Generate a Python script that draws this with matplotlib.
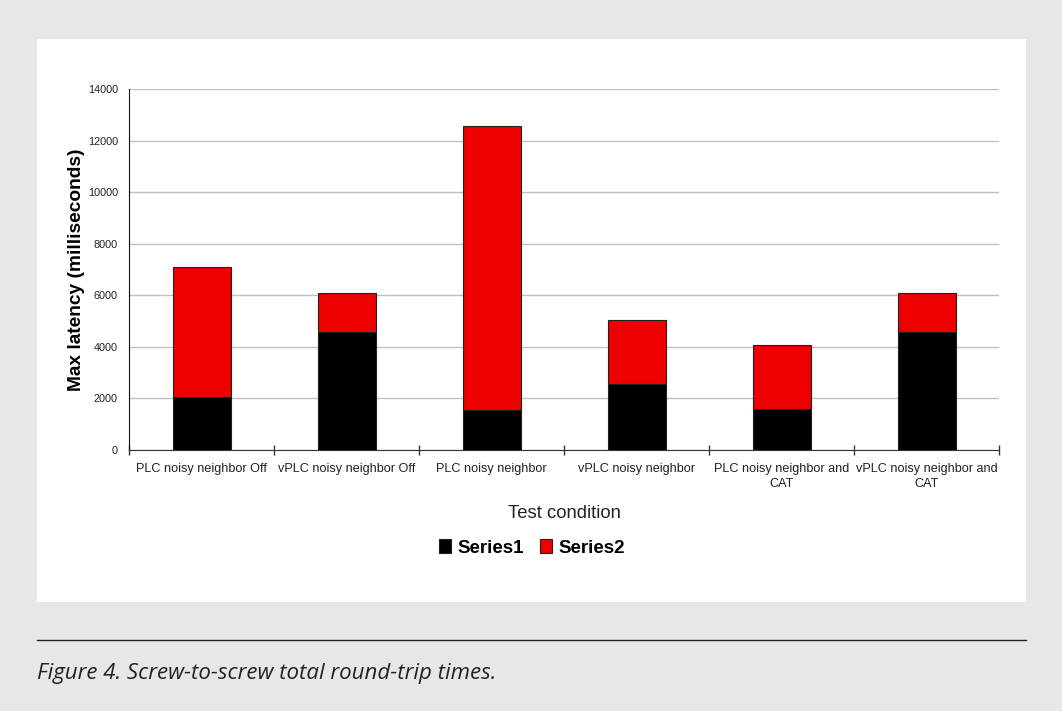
"""Stacked bar chart of screw-to-screw round-trip times per test condition."""

import matplotlib.pyplot as plt
from matplotlib.patches import Rectangle
import numpy as np

conditions = ['PLC noisy neighbor Off', 'vPLC noisy neighbor Off', 'PLC noisy neighbor',
              'vPLC noisy neighbor', 'PLC noisy neighbor and\nCAT', 'vPLC noisy neighbor and\nCAT']
series1 = [2050, 4580, 1570, 2550, 1580, 4580]
series2 = [5050, 1500, 10980, 2490, 2500, 1500]
y_ticks = [0, 2000, 4000, 6000, 8000, 10000, 12000, 14000]

plt.rcParams['font.family'] = ['Liberation Sans', 'DejaVu Sans']

fig = plt.figure(figsize=(10.62, 7.11), dpi=100)
fig.patch.set_facecolor('#e6e7e9')

# white panel behind the chart
fig.patches.append(Rectangle((37 / 1062, 1 - 602 / 711), (1026 - 37) / 1062, (602 - 39) / 711,
                             transform=fig.transFigure, facecolor='white', edgecolor='none', zorder=-5))

ax = fig.add_axes([129 / 1062, 1 - 450 / 711, (999 - 129) / 1062, (450 - 89) / 711])
ax.set_facecolor('white')

x = np.arange(len(conditions))
ax.bar(x, series1, width=0.4, color='black', edgecolor='#222222', linewidth=0.8, label='Series1', zorder=3)
ax.bar(x, series2, width=0.4, bottom=series1, color='#ee0000', edgecolor='#222222', linewidth=0.8,
       label='Series2', zorder=3)

ax.set_xlim(-0.5, len(conditions) - 0.5)
ax.set_ylim(0, 14000)
ax.set_yticks(y_ticks)
ax.yaxis.grid(True, color='#c0c0c0', linewidth=1, zorder=0)
ax.tick_params(axis='y', length=0, labelsize=7.8, pad=8, labelcolor='#222222')

# category labels centered under bars, ticks at boundaries
ax.set_xticks(np.arange(len(conditions) + 1) - 0.5)
ax.set_xticklabels([])
ax.tick_params(axis='x', direction='inout', length=7, width=1, color='#333333')
ax.set_xticks(x, minor=True)
ax.set_xticklabels(conditions, minor=True, fontsize=9.1, linespacing=1.35, color='#222222')
ax.tick_params(axis='x', which='minor', length=0, pad=9)

for side in ['top', 'right']:
    ax.spines[side].set_visible(False)
ax.spines['left'].set_color('#111111')
ax.spines['bottom'].set_color('#333333')

ax.set_xlabel('Test condition', fontsize=13.3, labelpad=11, color='#222222')
ax.set_ylabel('Max latency (milliseconds)', fontsize=13.8, fontweight='bold', labelpad=2)

leg = fig.legend(loc='center', bbox_to_anchor=(532 / 1062, 1 - 548 / 711), ncol=2, frameon=False,
                 prop={'size': 13.5, 'weight': 'bold'}, handlelength=0.6, handleheight=0.7,
                 handletextpad=0.35, columnspacing=0.9)

# separator and caption
fig.add_artist(plt.Line2D([37 / 1062, 1026 / 1062], [1 - 640 / 711, 1 - 640 / 711],
                          transform=fig.transFigure, color='#222222', linewidth=1))
fig.text(37 / 1062, 1 - 673 / 711, 'Figure 4. Screw-to-screw total round-trip times.',
         fontsize=16, style='italic', family=['Open Sans', 'DejaVu Sans'], color='#222222', va='center')

fig.savefig('out.png', dpi=100, facecolor=fig.get_facecolor())
